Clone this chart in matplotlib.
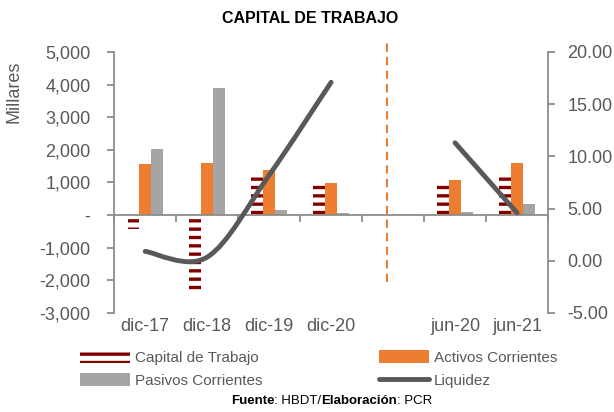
import numpy as np
import matplotlib
matplotlib.use("Agg")
import matplotlib.pyplot as plt
from matplotlib.path import Path
from matplotlib.patches import PathPatch
from matplotlib.lines import Line2D
from matplotlib.ticker import FuncFormatter
import matplotlib.transforms as mtransforms

plt.rcParams['font.family'] = ['Liberation Sans', 'DejaVu Sans']
plt.rcParams['hatch.linewidth'] = 2.4

categories = ['dic-17', 'dic-18', 'dic-19', 'dic-20', '', 'jun-20', 'jun-21']
capital = [-430, -2290, 1200, 920, np.nan, 970, 1230]
activos = [1580, 1605, 1370, 980, np.nan, 1063, 1585]
pasivos = [2020, 3900, 165, 60, np.nan, 90, 347]
liquidez = [0.9, 0.35, 8.2, 17.1, np.nan, 11.3, 4.6]

c_cap = '#800000'
c_act = '#ED7D31'
c_pas = '#A5A5A5'
c_liq = '#595959'
c_axis = '#8C8C8C'
c_txt = '#595959'


def smooth_path(xs, ys):
    # bezier por tramos tipo Catmull-Rom (como la linea suavizada de Excel)
    pts = np.column_stack([xs, ys])
    verts = [pts[0]]
    codes = [Path.MOVETO]
    n = len(pts)
    for i in range(n - 1):
        p0 = pts[i - 1] if i > 0 else pts[i]
        p1 = pts[i]
        p2 = pts[i + 1]
        p3 = pts[i + 2] if i + 2 < n else pts[i + 1]
        verts += [p1 + (p2 - p0) / 6, p2 - (p3 - p1) / 6, p2]
        codes += [Path.CURVE4] * 3
    return Path(verts, codes)


fig = plt.figure(figsize=(6.14, 4.12), dpi=100)
ax = fig.add_axes([0.186, 0.2403, 0.7065, 0.6335])
x = np.arange(len(categories))
w = 0.19

b1 = ax.bar(x - w, capital, w, facecolor='white', edgecolor=c_cap, linewidth=0,
            hatch='--', label='Capital de Trabajo')
b2 = ax.bar(x, activos, w, color=c_act, label='Activos Corrientes')
b3 = ax.bar(x + w, pasivos, w, color=c_pas, label='Pasivos Corrientes')

ax.set_xlim(-0.5, 6.5)
ax.set_ylim(-3000, 5000)
ax.set_yticks(np.arange(-3000, 5001, 1000))
ax.yaxis.set_major_formatter(FuncFormatter(lambda v, p: '-' if v == 0 else f'{v:,.0f}'))
ax.spines['top'].set_visible(False)
ax.spines['right'].set_visible(False)
ax.spines['bottom'].set_position(('data', 0))
for s in ['left', 'bottom']:
    ax.spines[s].set_color(c_axis)
    ax.spines[s].set_linewidth(1.3)
ax.set_xticks(np.arange(-0.5, 6.6, 1))
ax.set_xticklabels([])
ax.tick_params(axis='x', length=5, width=1.3, color=c_axis, direction='out')
ax.tick_params(axis='y', length=5, width=1.3, color=c_axis, labelcolor=c_txt,
               labelsize=13, pad=12)
trans = mtransforms.blended_transform_factory(ax.transData, ax.transAxes)
for i, c in enumerate(categories):
    ax.text(i, -0.02, c, transform=trans, ha='center', va='top', fontsize=13, color=c_txt)
ax.set_ylabel('Millares', fontsize=13, color=c_txt)
ax.yaxis.set_label_coords(-0.211, 0.847)

# linea divisoria
ax.plot([3.9, 3.9], [0.119, 1.038], transform=trans, color=c_act, lw=1.5,
        dashes=(4, 2.5), clip_on=False)

ax2 = ax.twinx()
ax2.set_ylim(-5, 20)
ax2.set_yticks(np.arange(-5, 20.1, 5))
ax2.yaxis.set_major_formatter(FuncFormatter(lambda v, p: f'{v:.2f}'))
for s in ['left', 'top', 'bottom']:
    ax2.spines[s].set_visible(False)
ax2.spines['right'].set_color(c_axis)
ax2.spines['right'].set_linewidth(1.3)
ax2.tick_params(axis='y', length=5, width=1.3, color=c_axis, labelcolor=c_txt,
                labelsize=13, pad=9)

liq = np.array(liquidez)
seg1 = smooth_path(x[:4], liq[:4])
seg2 = smooth_path(x[5:], liq[5:])
for pth in [seg1, seg2]:
    ax2.add_patch(PathPatch(pth, fill=False, edgecolor=c_liq, lw=3.5, capstyle='round'))
h_liq = Line2D([], [], color=c_liq, lw=3.5, solid_capstyle='round', label='Liquidez')

fig.text(0.505, 0.955, 'CAPITAL DE TRABAJO', ha='center', va='center',
         fontsize=11.5, fontweight='bold')

leg = fig.legend([b1, b3, b2, h_liq],
                 ['Capital de Trabajo', 'Pasivos Corrientes', 'Activos Corrientes', 'Liquidez'],
                 ncol=2, loc='center left', bbox_to_anchor=(0.108, 0.105), frameon=False,
                 fontsize=11, handlelength=3.3, handleheight=0.9, handletextpad=0.3,
                 columnspacing=7.6, labelspacing=0.55, labelcolor=c_txt)

# pie de grafico: partes en negrita y normales concatenadas
prev = fig.text(0.376, 0.02, 'Fuente', fontsize=9.5, fontweight='bold', va='baseline')
for txt, wgt in [(': HBDT/', 'normal'), ('Elaboración', 'bold'), (': PCR', 'normal')]:
    prev = ax.annotate(txt, xy=(1, 0), xycoords=prev, va='bottom', ha='left',
                       fontsize=9.5, fontweight=wgt, annotation_clip=False)

fig.savefig('out.png', dpi=100)
